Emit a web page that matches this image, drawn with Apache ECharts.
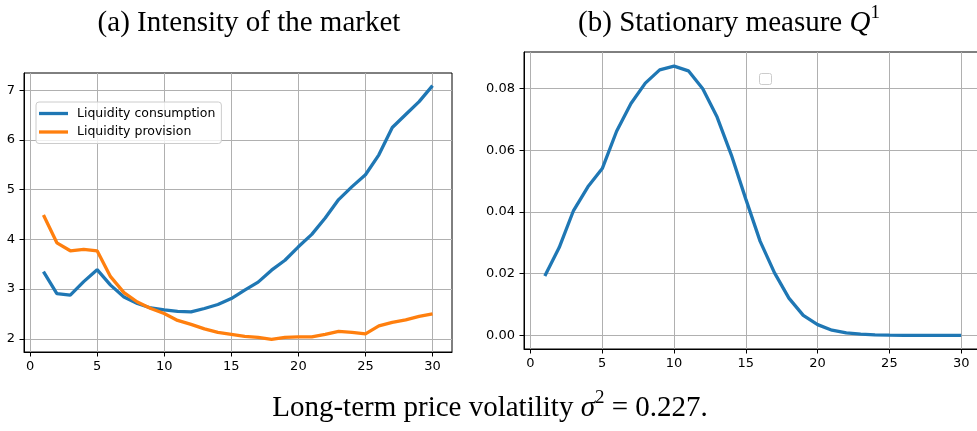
<!DOCTYPE html>
<html><head><meta charset="utf-8">
<script src="https://cdn.jsdelivr.net/npm/echarts@6/dist/echarts.min.js"></script>
<style>html,body{margin:0;padding:0;background:#fff;}#c{width:977px;height:431px;}</style>
</head><body><div id="c"></div>
<script>
const levels = [1,2,3,4,5,6,7,8,9,10,11,12,13,14,15,16,17,18,19,20,21,22,23,24,25,26,27,28,29,30];
const consumption = [3.35,2.91,2.88,3.15,3.39,3.08,2.84,2.71,2.62,2.58,2.55,2.54,2.61,2.69,2.81,2.98,3.14,3.38,3.58,3.85,4.10,4.43,4.80,5.06,5.30,5.70,6.25,6.51,6.77,7.09];
const provision = [4.49,3.93,3.77,3.80,3.77,3.25,2.93,2.74,2.61,2.51,2.37,2.29,2.20,2.13,2.09,2.05,2.03,1.99,2.03,2.04,2.04,2.09,2.15,2.13,2.10,2.26,2.33,2.38,2.45,2.50];
const stationary = [0.0193,0.0285,0.0405,0.0482,0.0541,0.0662,0.0752,0.0818,0.0861,0.0873,0.0858,0.0800,0.0708,0.0584,0.0442,0.0305,0.0203,0.0121,0.0065,0.0035,0.0017,0.0008,0.0004,0.0002,0.0001,0.00005,0.00002,0.00001,0,0];
const xTicks = [0,5,10,15,20,25,30];
const yTicksA = [2,3,4,5,6,7];
const yTicksB = [0,0.02,0.04,0.06,0.08];
const seriesNames = ['Liquidity consumption','Liquidity provision'];

const pairs = ys => levels.map((x,i)=>[x, ys[i]]);
const tickFont = {fontFamily:'DejaVu Sans', fontSize:13, color:'#000'};
const serif = 'Liberation Serif';
const TS = 29;

function xAxis(gi){
  return {type:'value', gridIndex:gi, min:-0.45, max:31.45,
    axisLine:{show:true, onZero:false, lineStyle:{color:'#000', width:1}},
    axisTick:{show:true, customValues:xTicks, length:4.5, lineStyle:{color:'#000'}},
    axisLabel:Object.assign({customValues:xTicks, margin:8.5}, tickFont),
    splitLine:{show:true, lineStyle:{color:'#b0b0b0', width:1}}};
}
function yAxis(gi, mn, mx, ticks, fmt){
  return {type:'value', gridIndex:gi, min:mn, max:mx,
    axisLine:{show:true, onZero:false, lineStyle:{color:'#000', width:1}},
    axisTick:{show:true, customValues:ticks, length:4.5, lineStyle:{color:'#000'}},
    axisLabel:Object.assign({customValues:ticks, margin:9, formatter:fmt}, tickFont),
    splitLine:{show:true, lineStyle:{color:'#b0b0b0', width:1}}};
}
function titleText(x, y, text){
  return {type:'text', x:x, y:y, style:{
    text:text, align:'center', textAlign:'center', verticalAlign:'top', fill:'#000',
    rich:{
      n:{fontFamily:serif, fontSize:TS, fill:'#000', color:'#000', verticalAlign:'bottom', lineHeight:34},
      i:{fontFamily:serif, fontSize:TS, fontStyle:'italic', fill:'#000', color:'#000', verticalAlign:'bottom', lineHeight:34},
      s:{fontFamily:serif, fontSize:19, fill:'#000', color:'#000', verticalAlign:'top', lineHeight:22}
    }}};
}

const chart = echarts.init(document.getElementById('c'), null, {renderer:'canvas'});
chart.setOption({
  animation:false,
  backgroundColor:'#fff',
  grid:[
    {left:24, top:73, width:428, height:279, show:true, borderColor:'#000', borderWidth:1, backgroundColor:'transparent', containLabel:false, outerBoundsMode:'none'},
    {left:524, top:52, width:458, height:297, show:true, borderColor:'#000', borderWidth:1, backgroundColor:'transparent', containLabel:false, outerBoundsMode:'none'}
  ],
  xAxis:[xAxis(0), xAxis(1)],
  yAxis:[
    yAxis(0, 1.735, 7.345, yTicksA, v => String(v)),
    yAxis(1, -0.0044, 0.0919, yTicksB, v => v.toFixed(2))
  ],
  legend:{
    data:seriesNames, orient:'vertical', left:36, top:102,
    backgroundColor:'rgba(255,255,255,0.8)', borderColor:'#cccccc', borderWidth:1, borderRadius:3,
    padding:[5,6,5,3], itemGap:5.5, itemWidth:29, itemHeight:3.3, icon:'rect',
    textStyle:{fontFamily:'DejaVu Sans', fontSize:12.5, color:'#000', padding:[0,0,0,4]}
  },
  series:[
    {name:seriesNames[0], type:'line', xAxisIndex:0, yAxisIndex:0, data:pairs(consumption), symbol:'none', lineStyle:{color:'#1f77b4', width:3.3}, itemStyle:{color:'#1f77b4'}},
    {name:seriesNames[1], type:'line', xAxisIndex:0, yAxisIndex:0, data:pairs(provision), symbol:'none', lineStyle:{color:'#ff7f0e', width:3.3}, itemStyle:{color:'#ff7f0e'}},
    {name:'Q1', type:'line', xAxisIndex:1, yAxisIndex:1, data:pairs(stationary), symbol:'none', lineStyle:{color:'#1f77b4', width:3.3}, itemStyle:{color:'#1f77b4'}}
  ],
  graphic:[
    {type:'rect', shape:{x:759.5, y:73.5, width:12, height:11, r:2}, style:{fill:'#fff', stroke:'#cccccc', lineWidth:1}, z:100},
    titleText(249, 4, '{n|(a) Intensity of the market}'),
    titleText(729, 4, '{n|(b) Stationary measure }{i|Q}{s|1}'),
    titleText(490, 389, '{n|Long-term price volatility }{i|σ}{s|2}{n| = 0.227.}')
  ]
});
</script></body></html>
